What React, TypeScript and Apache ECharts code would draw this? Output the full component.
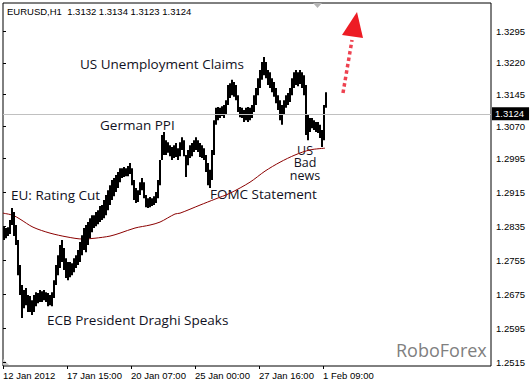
import React, { useEffect, useRef } from "react";
import * as echarts from "echarts";

const headerText = "EURUSD,H1  1.3132 1.3134 1.3123 1.3124";
const xTickIndex = [0, 32, 64, 96, 128, 160];
const xTickLabels = ["12 Jan 2012", "17 Jan 15:00", "20 Jan 07:00", "25 Jan 00:00", "27 Jan 16:00", "1 Feb 09:00"];
const yTicks = [1.2515, 1.2595, 1.2675, 1.2755, 1.2835, 1.2915, 1.2995, 1.307, 1.3145, 1.322, 1.3295];
const lastClose = 1.3124;

// 2-hour slots: high / low of each slot
const highs = [
  1.2835, 1.2831, 1.2833, 1.2850, 1.2878, 1.2869, 1.2838, 1.2803, 1.2744, 1.2697,
  1.2685, 1.2690, 1.2673, 1.2671, 1.2661, 1.2673, 1.2680, 1.2678, 1.2685, 1.2682,
  1.2685, 1.2680, 1.2678, 1.2673, 1.2680, 1.2708, 1.2744, 1.2767, 1.2791, 1.2803,
  1.2784, 1.2760, 1.2751, 1.2751, 1.2748, 1.2760, 1.2767, 1.2779, 1.2798, 1.2814,
  1.2831, 1.2838, 1.2845, 1.2854, 1.2861, 1.2861, 1.2869, 1.2873, 1.2883, 1.2885,
  1.2897, 1.2909, 1.2920, 1.2932, 1.2944, 1.2949, 1.2956, 1.2963, 1.2972, 1.2972,
  1.2975, 1.2972, 1.2977, 1.2984, 1.2972, 1.2944, 1.2925, 1.2920, 1.2939, 1.2949,
  1.2939, 1.2909, 1.2901, 1.2904, 1.2901, 1.2906, 1.2916, 1.2944, 1.2991, 1.3050,
  1.3057, 1.3038, 1.3033, 1.3026, 1.3022, 1.3026, 1.3031, 1.3019, 1.3033, 1.3045,
  1.3038, 1.3003, 1.3015, 1.3026, 1.3031, 1.3038, 1.3045, 1.3038, 1.3031, 1.3026,
  1.3019, 1.3003, 1.2984, 1.2968, 1.3015, 1.3085, 1.3114, 1.3116, 1.3114, 1.3118,
  1.3121, 1.3132, 1.3168, 1.3172, 1.3180, 1.3175, 1.3168, 1.3144, 1.3116, 1.3114,
  1.3109, 1.3114, 1.3116, 1.3114, 1.3121, 1.3144, 1.3161, 1.3184, 1.3203, 1.3222,
  1.3234, 1.3222, 1.3203, 1.3198, 1.3184, 1.3175, 1.3161, 1.3144, 1.3132, 1.3121,
  1.3132, 1.3144, 1.3149, 1.3161, 1.3184, 1.3198, 1.3203, 1.3198, 1.3203, 1.3198,
  1.3191, 1.3168, 1.3097, 1.3090, 1.3090, 1.3085, 1.3081, 1.3081, 1.3074, 1.3062,
  1.3121, 1.3151,
];
const lows = [
  1.2803, 1.2807, 1.2812, 1.2817, 1.2838, 1.2812, 1.2791, 1.2720, 1.2673, 1.2619,
  1.2642, 1.2649, 1.2633, 1.2633, 1.2626, 1.2633, 1.2647, 1.2654, 1.2657, 1.2657,
  1.2661, 1.2657, 1.2647, 1.2649, 1.2647, 1.2666, 1.2697, 1.2720, 1.2737, 1.2751,
  1.2732, 1.2713, 1.2708, 1.2715, 1.2720, 1.2727, 1.2737, 1.2744, 1.2751, 1.2767,
  1.2779, 1.2774, 1.2791, 1.2807, 1.2821, 1.2831, 1.2835, 1.2840, 1.2845, 1.2850,
  1.2854, 1.2861, 1.2873, 1.2885, 1.2897, 1.2906, 1.2916, 1.2925, 1.2939, 1.2949,
  1.2951, 1.2953, 1.2953, 1.2958, 1.2932, 1.2897, 1.2890, 1.2892, 1.2909, 1.2920,
  1.2901, 1.2880, 1.2878, 1.2880, 1.2883, 1.2885, 1.2890, 1.2901, 1.2932, 1.2991,
  1.3003, 1.3003, 1.3008, 1.3000, 1.2991, 1.2996, 1.2998, 1.2991, 1.3000, 1.3015,
  1.3000, 1.2951, 1.2979, 1.2996, 1.3000, 1.3010, 1.3015, 1.3010, 1.2998, 1.2996,
  1.2991, 1.2963, 1.2932, 1.2925, 1.2944, 1.3003, 1.3074, 1.3085, 1.3090, 1.3095,
  1.3090, 1.3097, 1.3121, 1.3137, 1.3144, 1.3140, 1.3132, 1.3104, 1.3092, 1.3090,
  1.3081, 1.3085, 1.3081, 1.3085, 1.3090, 1.3104, 1.3121, 1.3144, 1.3161, 1.3180,
  1.3191, 1.3184, 1.3168, 1.3161, 1.3151, 1.3140, 1.3125, 1.3109, 1.3085, 1.3074,
  1.3097, 1.3114, 1.3121, 1.3128, 1.3144, 1.3161, 1.3168, 1.3165, 1.3170, 1.3161,
  1.3144, 1.3050, 1.3038, 1.3057, 1.3066, 1.3062, 1.3057, 1.3055, 1.3043, 1.3022,
  1.3038, 1.3114,
];

// moving average (slot position, value)
const maIdx = [0, 5, 8.5, 15, 23.5, 32, 40, 46, 53.5, 58.5, 66, 73.5, 78.5, 86, 88.5, 98.5, 106, 113.5, 123.5, 131, 138.5, 146, 153.5, 161];
const maVal = [1.2866, 1.2861, 1.2852, 1.2833, 1.2819, 1.2810, 1.2805, 1.2807, 1.2812, 1.2819, 1.2831, 1.2838, 1.2845, 1.2864, 1.2866, 1.2885, 1.2899, 1.2913, 1.2939, 1.2965, 1.2986, 1.3003, 1.3015, 1.3019];

const annFont = "'Open Sans'";
const annColor = "#111122";

export default function App() {
  const ref = useRef<HTMLDivElement>(null);
  useEffect(() => {
    document.body.style.margin = "0";
    const chart = echarts.init(ref.current!, null, { renderer: "svg" });
    const barData = highs.map((h, k) => [k + 0.5, lows[k], h]);
    const maData = maIdx.map((x, k) => [x, maVal[k]]);
    const ann = (text: string, x: number, y: number) => ({
      type: "text",
      x,
      y,
      silent: true,
      style: { text, fontFamily: annFont, fontSize: 13.5, fill: annColor, verticalAlign: "middle", align: "left" },
    });
    chart.setOption({
      animation: false,
      backgroundColor: "#ffffff",
      grid: { left: 3, top: 3, right: 39, bottom: 17, show: true, borderColor: "#000", borderWidth: 1 },
      xAxis: {
        type: "value",
        min: 0,
        max: 244,
        splitLine: { show: false },
        axisLine: { show: false },
        axisTick: { show: true, customValues: xTickIndex, length: 3, lineStyle: { color: "#000" } },
        axisLabel: {
          customValues: xTickIndex,
          formatter: (v: number) => {
            const i = xTickIndex.indexOf(Math.round(v));
            return i >= 0 ? xTickLabels[i] : "";
          },
          align: "left",
          margin: 4,
          fontSize: 9.5,
          fontFamily: "'Liberation Sans'",
          color: "#000",
        },
      },
      yAxis: {
        type: "value",
        position: "right",
        min: 1.2506,
        max: 1.3361,
        scale: true,
        splitLine: { show: false },
        axisLine: { show: false },
        axisTick: { show: true, customValues: yTicks, length: 3, lineStyle: { color: "#000" } },
        axisLabel: {
          customValues: yTicks,
          formatter: (v: number) => v.toFixed(4),
          margin: 5,
          fontSize: 9.5,
          fontFamily: "'Liberation Sans'",
          color: "#000",
        },
      },
      series: [
        {
          type: "line",
          data: maData,
          showSymbol: false,
          smooth: 0.3,
          lineStyle: { color: "#8b0000", width: 1 },
          silent: true,
          z: 2,
          markLine: {
            silent: true,
            symbol: "none",
            lineStyle: { color: "#c0c0c0", width: 1, type: "solid" },
            label: {
              position: "end",
              formatter: lastClose.toFixed(4),
              backgroundColor: "#000",
              color: "#fff",
              padding: [2, 5, 1, 3],
              distance: 1,
              fontSize: 9.5,
              fontFamily: "'Liberation Sans'",
            },
            data: [{ yAxis: lastClose }],
          },
        },
        {
          type: "custom",
          data: barData,
          clip: true,
          z: 3,
          encode: { x: 0, y: [1, 2] },
          renderItem: (_p: any, api: any) => {
            const i = api.value(0);
            const top = api.coord([i, api.value(2)]);
            const bot = api.coord([i, api.value(1)]);
            return {
              type: "rect",
              shape: { x: top[0] - 1, y: top[1], width: 2, height: Math.max(1, bot[1] - top[1]) },
              style: { fill: "#000" },
            };
          },
        },
      ],
      graphic: [
        {
          type: "text",
          x: 7,
          y: 11,
          style: { text: headerText, fontFamily: "'Liberation Sans'", fontSize: 9.5, fill: "#000", verticalAlign: "middle" },
        },
        ann("US Unemployment Claims", 80, 64),
        ann("German PPI", 100, 125),
        ann("EU: Rating Cut", 11, 195),
        ann("FOMC Statement", 210, 194),
        ann("ECB President Draghi Speaks", 47, 320),
        {
          type: "text",
          x: 305,
          y: 144,
          silent: true,
          style: {
            text: "US\nBad\nnews",
            fontFamily: annFont,
            fontSize: 12.5,
            lineHeight: 12.5,
            fill: annColor,
            align: "center",
            verticalAlign: "top",
          },
        },
        {
          type: "text",
          x: 396,
          y: 350,
          silent: true,
          style: { text: "RoboForex", fontFamily: annFont, fontSize: 18, fill: "#808080", verticalAlign: "middle" },
        },
        {
          type: "line",
          silent: true,
          shape: { x1: 343, y1: 93, x2: 352, y2: 40 },
          style: { stroke: "#ee4250", lineWidth: 3.5, lineDash: [3.5, 3] },
        },
        {
          type: "polygon",
          silent: true,
          shape: { points: [[357, 12], [342, 35], [363, 38]] },
          style: { fill: "#ed1c24" },
        },
        {
          type: "polygon",
          silent: true,
          shape: { points: [[313, 3], [322, 3], [317.5, 8]] },
          style: { fill: "#b4b4b4" },
        },
        {
          type: "polygon",
          silent: true,
          shape: { points: [[3, 359], [3, 365], [9, 365]] },
          style: { fill: "#c8c8c8" },
        },
      ],
    });
    return () => chart.dispose();
  }, []);
  return <div ref={ref} style={{ width: 530, height: 383 }} />;
}
